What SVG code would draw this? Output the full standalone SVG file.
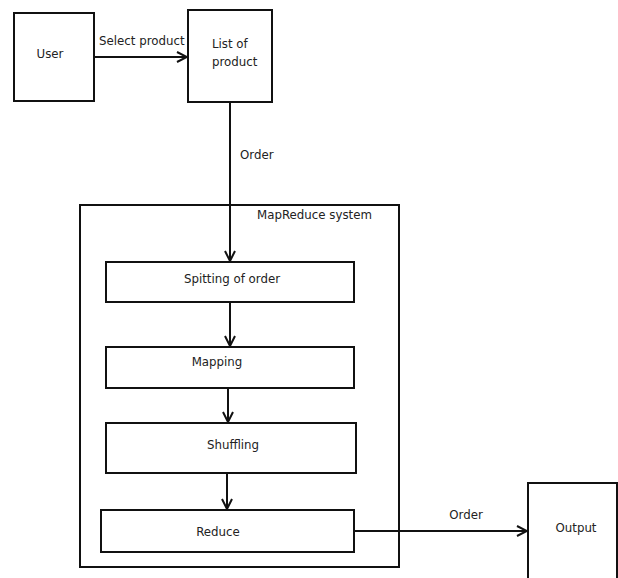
<svg xmlns="http://www.w3.org/2000/svg" width="618" height="578" viewBox="0 0 618 578">
<style>
.box{fill:#fff;stroke:#111;stroke-width:2}
.frame{fill:none;stroke:#111;stroke-width:2}
.t{font-family:"DejaVu Sans",Verdana,sans-serif;font-size:11.8px;fill:#222}
.c{text-anchor:middle}
.ln{fill:none;stroke:#111;stroke-width:2}
</style>
<defs>
<marker id="ah" viewBox="0 0 12 12" refX="11" refY="6" markerWidth="12" markerHeight="12" markerUnits="userSpaceOnUse" orient="auto">
<polyline points="1,1 11,6 1,11" fill="none" stroke="#111" stroke-width="2"/>
</marker>
</defs>
<rect width="618" height="578" fill="#fff"/>
<g id="mapreduce-system">
<rect class="frame" x="80" y="205" width="319" height="362"/>
<text class="t" x="257" y="219">MapReduce system</text>
</g>
<g id="user">
<rect class="box" x="14" y="13" width="80" height="88"/>
<text class="t c" x="50" y="58">User</text>
</g>
<g id="list-of-product">
<rect class="box" x="188" y="10" width="84" height="92"/>
<text class="t" x="212" y="48">List of</text>
<text class="t" x="212" y="66">product</text>
</g>
<g id="spitting">
<rect class="box" x="106" y="262" width="248" height="40"/>
<text class="t c" x="232" y="283">Spitting of order</text>
</g>
<g id="mapping">
<rect class="box" x="106" y="347" width="248" height="41"/>
<text class="t c" x="217" y="366">Mapping</text>
</g>
<g id="shuffling">
<rect class="box" x="106" y="423" width="250" height="50"/>
<text class="t c" x="233" y="449">Shuffling</text>
</g>
<g id="reduce">
<rect class="box" x="101" y="510" width="253" height="42"/>
<text class="t c" x="218" y="536">Reduce</text>
</g>
<g id="output">
<rect class="box" x="528" y="483" width="89" height="100"/>
<text class="t c" x="576" y="532">Output</text>
</g>
<g id="connectors">
<line class="ln" x1="94" y1="57" x2="187" y2="57" marker-end="url(#ah)"/>
<text class="t" x="99" y="45">Select product</text>
<line class="ln" x1="230" y1="102" x2="230" y2="261" marker-end="url(#ah)"/>
<text class="t" x="240" y="159">Order</text>
<line class="ln" x1="230" y1="302" x2="230" y2="346" marker-end="url(#ah)"/>
<line class="ln" x1="228" y1="388" x2="228" y2="422" marker-end="url(#ah)"/>
<line class="ln" x1="227" y1="473" x2="227" y2="509" marker-end="url(#ah)"/>
<line class="ln" x1="354" y1="531" x2="527" y2="531" marker-end="url(#ah)"/>
<text class="t c" x="466" y="519">Order</text>
</g>
</svg>
